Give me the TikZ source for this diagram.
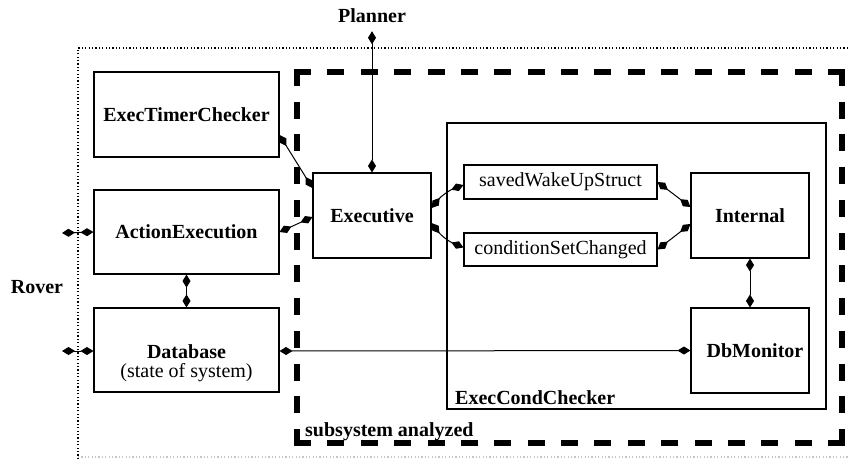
\documentclass[tikz,border=0pt]{standalone}
\usepackage{fontspec}
\setmainfont{Liberation Serif}
\usetikzlibrary{arrows.meta}

\tikzset{
  bigfont/.style={font=\fontsize{20}{19}\selectfont},
  box/.style={draw, line width=1.1pt, inner sep=0pt, bigfont},
  boldbox/.style={box, font=\fontsize{20}{19}\selectfont\bfseries},
  title/.style={inner sep=0pt, font=\fontsize{20}{19}\selectfont\bfseries},
  conn/.style={line width=1pt,
    {Diamond[length=13pt,width=8pt]}-{Diamond[length=13pt,width=8pt]}},
  dotline/.style={line width=1.4pt, dash pattern=on 1.2pt off 2.2pt},
  thickdash/.style={line width=6pt, line cap=rect}
}

\begin{document}
\begin{tikzpicture}[x=1pt, y=-1pt]
\useasboundingbox (0,0) rectangle (850,459);

% outer boundary of the rover software (dotted)
\draw[dotline] (78,459) -- (78,48) -- (852,48);
\draw[dotline, gray!45] (78,457) -- (852,457);

% analyzed subsystem (thick dashed), one side at a time so every corner is closed
\draw[thickdash, dash pattern=on 11pt off 22.375pt] (297,72) -- (842,72);
\draw[thickdash, dash pattern=on 11pt off 22.375pt] (297,443) -- (842,443);
\draw[thickdash, dash pattern=on 11pt off 21.73pt] (297,72) -- (297,443);
\draw[thickdash, dash pattern=on 11pt off 21.73pt] (842,72) -- (842,443);
\node[title, anchor=base west] (subsys) at (305,436) {subsystem analyzed};

% components outside the subsystem
\node[boldbox, minimum width=185pt, minimum height=85pt] (etc) at (186.5,114.5) {ExecTimerChecker};
\node[boldbox, minimum width=185pt, minimum height=84pt] (ae) at (186.5,232) {ActionExecution};
\node[box, minimum width=185pt, minimum height=84pt] (db) at (186.5,350) {};
\node[bigfont, align=center, inner sep=0pt] (dbtext) at ([yshift=-13pt]db.center)
  {\textbf{Database}\\(state of system)};

% executive
\node[boldbox, minimum width=118pt, minimum height=85pt] (exec) at (372,215.5) {Executive};

% condition checker and its parts
\node[draw, line width=1.1pt, minimum width=379pt, minimum height=286pt, inner sep=0pt] (ecc) at (636.5,266) {};
\node[title, anchor=base west] (ecclabel) at (455,404) {ExecCondChecker};
\node[box, minimum width=193pt, minimum height=34pt] (sw) at (560.5,182) {savedWakeUpStruct};
\node[box, minimum width=193pt, minimum height=33pt] (cs) at (560.5,249.5) {conditionSetChanged};
\node[boldbox, minimum width=118pt, minimum height=85pt] (int) at (750,215.5) {Internal};
\node[boldbox, minimum width=118pt, minimum height=85pt] (dbm) at (750,350.5) {\hspace{10pt}DbMonitor};

% external parties
\node[title] (planner) at (372,16) {Planner};
\node[title] (rover) at (37,287) {Rover};
\coordinate (aeL) at (62,233);
\coordinate (dbL) at (62,351);

% connections
\draw[conn] ([yshift=-8pt]planner.south) -- (exec.north);
\draw[conn] (aeL) -- (ae.west);
\draw[conn] (dbL) -- ([yshift=-1pt]db.west);
\draw[conn] ([yshift=-20.5pt]etc.east) -- ([yshift=27.5pt]exec.west);
\draw[conn] (ae.east) -- ([yshift=-1.5pt]exec.west);
\draw[conn] (ae.south) -- (db.north);
\draw[conn] ([yshift=7.5pt]exec.east) to[bend left=15] ([yshift=-3pt]sw.west);
\draw[conn] ([yshift=-7.5pt]exec.east) to[bend right=15] ([yshift=2pt]cs.west);
\draw[conn] (sw.east) -- ([yshift=8.5pt]int.west);
\draw[conn] (cs.east) -- ([yshift=-8.5pt]int.west);
\draw[conn] (int.south) -- (dbm.north);
\draw[conn] ([yshift=-1pt]db.east) -- (dbm.west);
\end{tikzpicture}
\end{document}
